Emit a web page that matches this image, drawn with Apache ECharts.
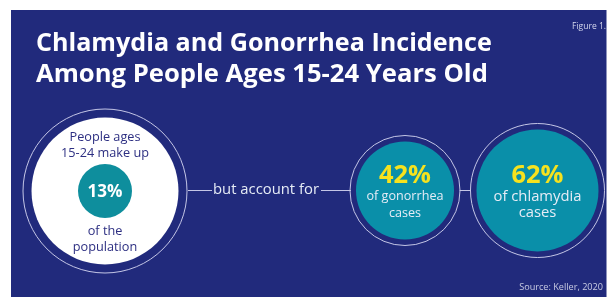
<!DOCTYPE html>
<html><head><meta charset="utf-8">
<script src="https://cdn.jsdelivr.net/npm/echarts@6/dist/echarts.min.js"></script>
<style>html,body{margin:0;padding:0;background:#fff}#c{width:608px;height:297px}</style>
</head><body><div id="c"></div>
<script>
// ---- data ----
const titleLines = ['Chlamydia and Gonorrhea Incidence', 'Among People Ages 15-24 Years Old'];
const figureLabel = 'Figure 1.';
const sourceLabel = 'Source: Keller, 2020';
const groups = ['population', 'gonorrhea', 'chlamydia'];
const percents = [13, 42, 62];
const leadLines = ['People ages', '15-24 make up'];
const captions = [['of the', 'population'], ['of gonorrhea', 'cases'], ['of chlamydia', 'cases']];
const connectorText = 'but account for';

// ---- layout / style ----
const FAM = "'Open Sans', sans-serif";
const ctx = document.createElement('canvas').getContext('2d');
function fit(text, weight, w) { ctx.font = weight + ' 100px ' + FAM; return 100 * w / ctx.measureText(text).width; }
const font = (s, wt) => wt + ' ' + s.toFixed(2) + 'px ' + FAM;

const centers = [[105, 191], [405, 190.5], [537.5, 190.5]];
const ringR = [82, 55, 67];
const fillR = [73.5, 49, 61];
const fillColor = ['#ffffff', '#0a8fa9', '#0a8fa9'];
const innerR = 27;
const PANEL = '#212a7c', RING = '#c4c6e6', NAVY = '#2d2f82', TEAL13 = '#0e8e9d', YEL = '#f6e21e', LIGHT = '#e6ecf6';

const chart = echarts.init(document.getElementById('c'), null, { renderer: 'canvas' });

const ringData = groups.map((g, i) => ({ name: g, value: [centers[i][0], centers[i][1], percents[i]], symbolSize: ringR[i] * 2 }));
const fillData = groups.map((g, i) => ({ name: g, value: [centers[i][0], centers[i][1], percents[i]], symbolSize: fillR[i] * 2, itemStyle: { color: fillColor[i], opacity: 1 } }));
const innerData = [{ name: groups[0], value: [centers[0][0], centers[0][1], percents[0]], symbolSize: innerR * 2 }];

const texts = [];
function T(text, x, y, size, wt, color, align) {
  texts.push({ type: 'text', z: 100, x: x, y: y, silent: true,
    style: { text: text, font: font(size, wt), fill: color, textAlign: align || 'center', textVerticalAlign: 'middle' } });
}
// title
T(titleLines[0], 36, 44, fit(titleLines[0], 'bold', 456), 'bold', '#ffffff', 'left');
T(titleLines[1], 36, 75, fit(titleLines[1], 'bold', 452), 'bold', '#ffffff', 'left');
T(figureLabel, 606, 27, fit(figureLabel, 'normal', 34), 'normal', '#d6d8ee', 'right');
T(sourceLabel, 603, 287, fit(sourceLabel, 'normal', 84), 'normal', '#c8cbe2', 'right');
// left circle
const nSize = fit(leadLines[1], 'normal', 88);
T(leadLines[0], centers[0][0], 137, nSize, 'normal', NAVY);
T(leadLines[1], centers[0][0], 153, nSize, 'normal', NAVY);
T(percents[0] + '%', centers[0][0], 192, fit(percents[0] + '%', 'bold', 35), 'bold', '#ffffff');
T(captions[0][0], centers[0][0], 231, nSize, 'normal', NAVY);
T(captions[0][1], centers[0][0], 247, nSize, 'normal', NAVY);
// connector
T(connectorText, 266, 190, fit(connectorText, 'normal', 106), 'normal', LIGHT);
// right circles
const pSize = fit(percents[1] + '%', 'bold', 52);
const gSize = fit(captions[1][0], 'normal', 77);
T(percents[1] + '%', centers[1][0], 176, pSize, 'bold', YEL);
T(captions[1][0], centers[1][0], 196, gSize, 'normal', LIGHT);
T(captions[1][1], centers[1][0], 213, gSize, 'normal', LIGHT);
const cSize = fit(captions[2][0], 'normal', 88);
T(percents[2] + '%', centers[2][0], 176, pSize, 'bold', YEL);
T(captions[2][0], centers[2][0], 197, cSize, 'normal', LIGHT);
T(captions[2][1], centers[2][0], 213, cSize, 'normal', LIGHT);

const lines = [[188, 212], [321, 351], [459.5, 471]].map(s => ({ type: 'line', z: 50, silent: true,
  shape: { x1: s[0], y1: 190.5, x2: s[1], y2: 190.5 }, style: { stroke: RING, lineWidth: 1 } }));

chart.setOption({
  animation: false,
  backgroundColor: '#ffffff',
  grid: { left: 0, right: 0, top: 0, bottom: 0 },
  xAxis: { type: 'value', min: 0, max: 608, show: false },
  yAxis: { type: 'value', min: 0, max: 297, inverse: true, show: false },
  graphic: { elements: [
    { type: 'rect', z: -10, silent: true, shape: { x: 11, y: 10, width: 595.5, height: 287 }, style: { fill: PANEL } }
  ].concat(lines, texts) },
  series: [
    { type: 'scatter', z: 3, silent: true, data: ringData, symbol: 'circle',
      itemStyle: { color: 'rgba(0,0,0,0)', borderColor: RING, borderWidth: 1, opacity: 1 } },
    { type: 'scatter', z: 4, silent: true, data: fillData, symbol: 'circle', itemStyle: { opacity: 1 } },
    { type: 'scatter', z: 5, silent: true, data: innerData, symbol: 'circle', itemStyle: { color: TEAL13, opacity: 1 } }
  ]
});
</script></body></html>
